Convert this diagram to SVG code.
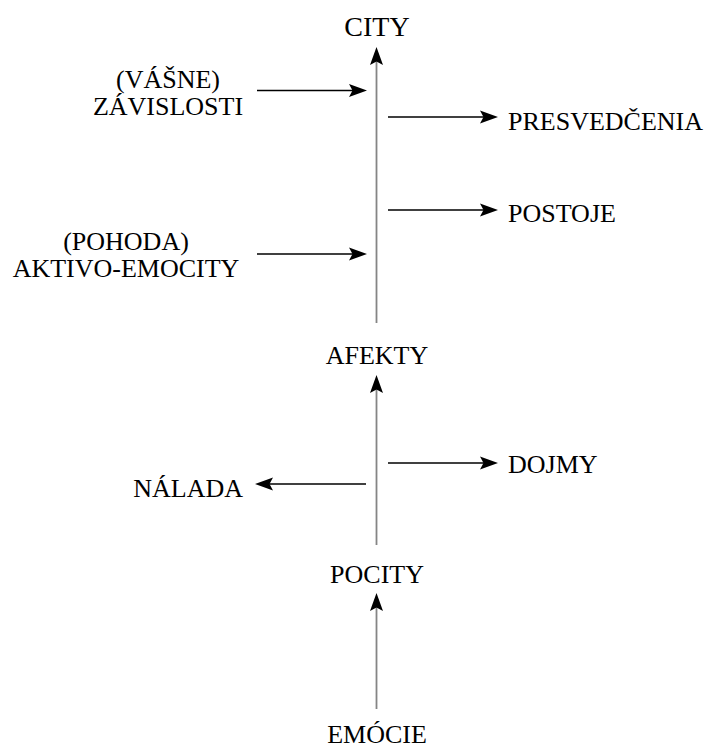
<svg xmlns="http://www.w3.org/2000/svg" width="713" height="749" viewBox="0 0 713 749">
<style>
text{font-family:"Liberation Serif","Times New Roman",serif;font-size:26px;fill:#000}
.title{font-size:28px}
.c{text-anchor:middle}
.h{stroke:#000;stroke-width:1.3;fill:none}
.v{stroke:#858585;stroke-width:1.8;fill:none}
</style>
<defs>
<marker id="ah" markerUnits="userSpaceOnUse" markerWidth="24" markerHeight="16" viewBox="-4 -8 24 16" refX="8" refY="0" orient="auto" overflow="visible">
<path d="M16,0 L-2,-6.5 L1.5,0 L-2,6.5 Z" fill="#000"/>
</marker>
</defs>
<g id="connectors">
<path class="v" d="M376.5,323 V55" marker-end="url(#ah)"/>
<path class="v" d="M376.5,545 V383" marker-end="url(#ah)"/>
<path class="v" d="M376.5,709 V601" marker-end="url(#ah)"/>
<path class="h" d="M257,90.5 H359" marker-end="url(#ah)"/>
<path class="h" d="M257,254 H359" marker-end="url(#ah)"/>
<path class="h" d="M388,117 H490" marker-end="url(#ah)"/>
<path class="h" d="M388,210 H490" marker-end="url(#ah)"/>
<path class="h" d="M388,463 H490" marker-end="url(#ah)"/>
<path class="h" d="M366,484 H263" marker-end="url(#ah)"/>
</g>
<g id="city"><text class="title c" x="377" y="36">CITY</text></g>
<g id="zavislosti"><text class="c" x="168" y="88">(VÁŠNE)</text><text class="c" x="168" y="115">ZÁVISLOSTI</text></g>
<g id="presvedcenia"><text x="508" y="130">PRESVEDČENIA</text></g>
<g id="postoje"><text x="508" y="222">POSTOJE</text></g>
<g id="aktivo-emocity"><text class="c" x="126" y="250">(POHODA)</text><text class="c" x="126" y="277">AKTIVO-EMOCITY</text></g>
<g id="afekty"><text class="c" x="377" y="364">AFEKTY</text></g>
<g id="dojmy"><text x="508" y="473">DOJMY</text></g>
<g id="nalada"><text x="243" y="497" text-anchor="end">NÁLADA</text></g>
<g id="pocity"><text class="c" x="377" y="583">POCITY</text></g>
<g id="emocie"><text class="c" x="377" y="743">EMÓCIE</text></g>
</svg>
